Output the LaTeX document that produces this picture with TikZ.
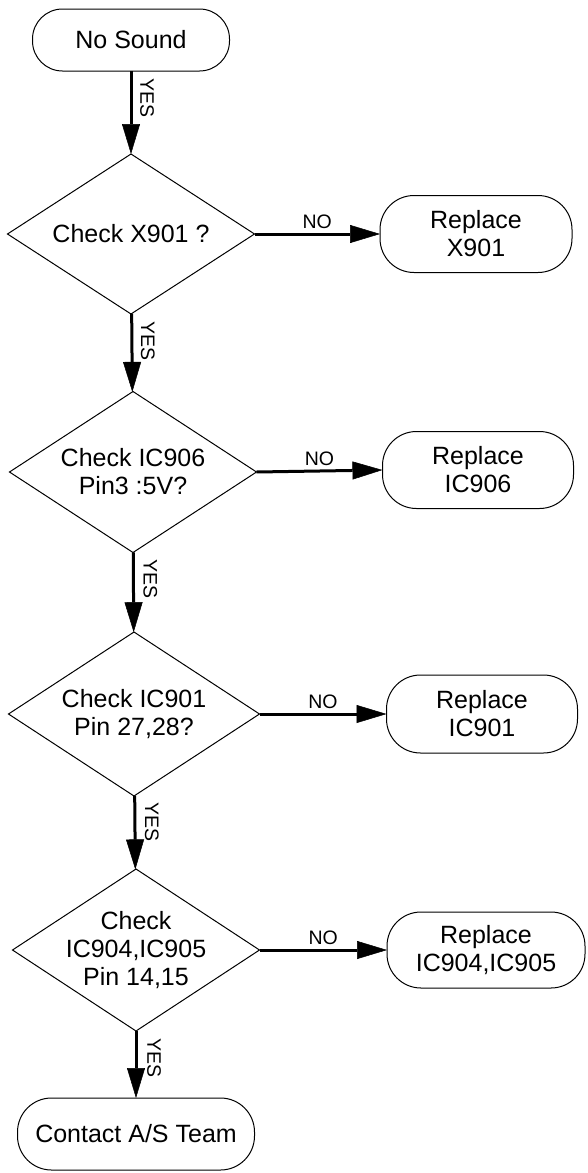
\documentclass[tikz,border=0pt]{standalone}
\usepackage{fontspec}
\setmainfont{Liberation Sans}
\usetikzlibrary{shapes.geometric,arrows.meta}
\begin{document}
\begin{tikzpicture}[x=1pt,y=-1pt,
  term/.style={draw, line width=1pt, rounded corners=34pt, inner sep=0pt, outer sep=0pt, align=center, font=\fontsize{25}{28}\selectfont},
  decide/.style={draw, diamond, line width=1pt, inner sep=0pt, outer sep=0pt},
  dtext/.style={align=center, font=\fontsize{25}{28}\selectfont, inner sep=0pt},
  flow/.style={line width=3pt, -{Triangle[length=30pt,width=18pt,line width=0.5pt]}},
  lbl/.style={font=\fontsize{19.5}{20}\selectfont, inner sep=0pt}
]
\useasboundingbox (0,0) rectangle (588,1173);
% nodes
\node[term, rounded corners=30pt, minimum width=197pt, minimum height=62pt] (ns) at (131,40) {No Sound};
\node[decide, minimum width=247pt, minimum height=160pt] (d1) at (131,234) {};
\node[dtext] (t1) at (d1.center) {Check X901 ?};
\node[term, minimum width=192pt, minimum height=77pt] (r1) at (476,234) {Replace\\X901};
\node[decide, minimum width=247pt, minimum height=161pt] (d2) at (133,472) {};
\node[dtext] (t2) at (d2.center) {Check IC906\\Pin3 :5V?};
\node[term, minimum width=191pt, minimum height=77pt] (r2) at (478,470) {Replace\\IC906};
\node[decide, minimum width=251pt, minimum height=164pt] (d3) at (134,714) {};
\node[dtext] (t3) at (d3.center) {Check IC901\\Pin 27,28?};
\node[term, minimum width=191pt, minimum height=78pt] (r3) at (482,714) {Replace\\IC901};
\node[decide, minimum width=247pt, minimum height=162pt] (d4) at (136,950) {};
\node[dtext] (t4) at (d4.center) {Check\\IC904,IC905\\Pin 14,15};
\node[term, minimum width=198pt, minimum height=76pt] (r4) at (486,950) {Replace\\IC904,IC905};
\node[term, minimum width=237pt, minimum height=72pt] (ct) at (136,1134) {Contact A/S Team};
% connectors
\draw[flow] (ns) -- node[lbl, pos=0.32, xshift=16pt, rotate=-90] {YES} (d1);
\draw[flow] (d1) -- node[lbl, pos=0.35, xshift=16pt, rotate=-90] {YES} (d2);
\draw[flow] (d2) -- node[lbl, pos=0.33, xshift=17pt, rotate=-90] {YES} (d3);
\draw[flow] (d3) -- node[lbl, pos=0.36, xshift=17pt, rotate=-90] {YES} (d4);
\draw[flow] (d4) -- node[lbl, pos=0.40, xshift=18pt, rotate=-90] {YES} (ct);
\draw[flow] (d1.east) -- node[lbl, midway, above=4pt] {NO} (r1.west);
\draw[flow] (d2.east) -- node[lbl, midway, above=4pt] {NO} (r2.west);
\draw[flow] (d3.east) -- node[lbl, midway, above=4pt] {NO} (r3.west);
\draw[flow] (d4.east) -- node[lbl, midway, above=4pt] {NO} (r4.west);
\end{tikzpicture}
\end{document}
